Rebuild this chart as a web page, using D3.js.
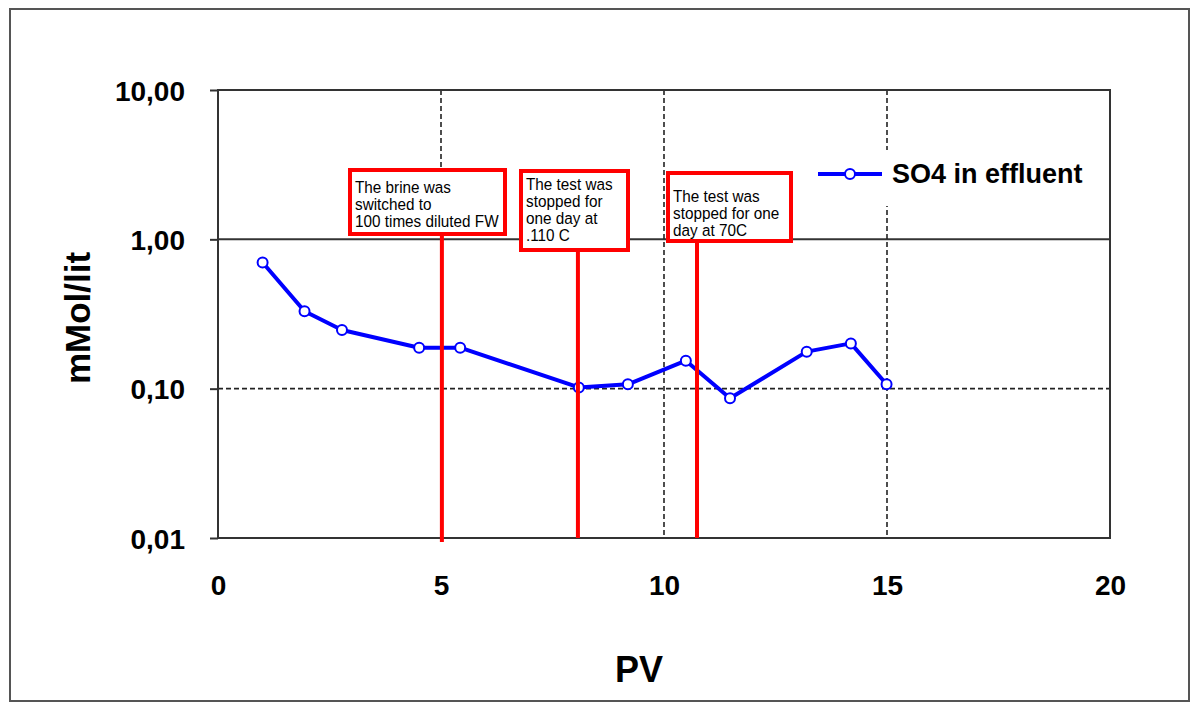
<!DOCTYPE html>
<html>
<head>
<meta charset="utf-8">
<script src="https://cdn.jsdelivr.net/npm/d3@7"></script>
<style>
  body { margin: 0; background: #fff; }
  svg { display: block; font-family: "Liberation Sans", Arial, sans-serif; }
</style>
</head>
<body>
<svg width="1192" height="704"></svg>
<script>
// data
var pv  = [1.0, 1.94, 2.78, 4.51, 5.43, 8.09, 9.19, 10.49, 11.48, 13.2, 14.19, 14.99];
var so4 = [0.70, 0.33, 0.247, 0.188, 0.188, 0.102, 0.107, 0.154, 0.0863, 0.177, 0.201, 0.107];
var seriesName = "SO4 in effluent";
var xTicks = [0, 5, 10, 15, 20];
var yTicks = [0.01, 0.1, 1, 10];
var xGrid = [5, 10, 15];
var eventPV = [5.02, 8.07, 10.74];
var eventNotes = [
  ["The brine was", "switched to", "100 times diluted FW"],
  ["The test was", "stopped for", "one day at", ".110 C"],
  ["The test was", "stopped for one", "day at 70C"]
];

// note boxes (outer edges, px) and first text baseline offset
var boxes = [
  {x0: 348, y0: 168, x1: 507, y1: 236, first: 25},
  {x0: 519, y0: 169, x1: 630, y1: 252, first: 21},
  {x0: 666, y0: 171, x1: 793, y1: 243, first: 31}
];

var svg = d3.select("svg");
var plotL = 218, plotR = 1110, plotT = 90, plotB = 538;

var x = d3.scaleLinear().domain([0, 20]).range([plotL, plotR]);
var y = d3.scaleLog().domain([0.01, 10]).range([plotB, plotT]);

// outer frame
svg.append("rect")
    .attr("x", 10).attr("y", 9).attr("width", 1179).attr("height", 692)
    .attr("fill", "#fff").attr("stroke", "#555").attr("stroke-width", 2);

// grid
svg.append("line")
    .attr("x1", plotL).attr("x2", plotR).attr("y1", y(1)).attr("y2", y(1))
    .attr("stroke", "#333").attr("stroke-width", 2);
svg.append("line")
    .attr("x1", plotL).attr("x2", plotR).attr("y1", y(0.1)).attr("y2", y(0.1))
    .attr("stroke", "#222").attr("stroke-width", 1.6).attr("stroke-dasharray", "5,3");
svg.selectAll(".vgrid").data(xGrid).enter().append("line")
    .attr("x1", function(d) { return x(d); }).attr("x2", function(d) { return x(d); })
    .attr("y1", plotT).attr("y2", plotB)
    .attr("stroke", "#222").attr("stroke-width", 1.6).attr("stroke-dasharray", "5,3");

// plot border
svg.append("rect")
    .attr("x", plotL).attr("y", plotT).attr("width", plotR - plotL).attr("height", plotB - plotT)
    .attr("fill", "none").attr("stroke", "#333").attr("stroke-width", 2);

// axes
var fmt = function(d) { return d3.format(".2f")(d).replace(".", ","); };
var yAxis = svg.append("g")
    .attr("transform", "translate(" + plotL + ",0)")
    .call(d3.axisLeft(y).tickValues(yTicks).tickSize(8).tickPadding(25).tickFormat(fmt));
var xAxis = svg.append("g")
    .attr("transform", "translate(0," + plotB + ")")
    .call(d3.axisBottom(x).tickValues(xTicks).tickSize(0).tickPadding(37));
[yAxis, xAxis].forEach(function(g) {
  g.select(".domain").remove();
  g.selectAll("line").attr("stroke", "#333").attr("stroke-width", 2);
  g.selectAll("text")
      .attr("font-family", "Liberation Sans, Arial, sans-serif")
      .attr("font-size", 28).attr("font-weight", "bold").attr("fill", "#000");
});
yAxis.selectAll("text").attr("dy", "0.36em");

// axis titles
svg.append("text")
    .attr("transform", "translate(639,682)")
    .attr("text-anchor", "middle")
    .attr("font-size", 36).attr("font-weight", "bold")
    .text("PV");
svg.append("text")
    .attr("transform", "translate(90,318) rotate(-90)")
    .attr("text-anchor", "middle")
    .attr("font-size", 35).attr("font-weight", "bold")
    .text("mMol/lit");

// legend background hides the grid under it
svg.append("rect")
    .attr("x", 805).attr("y", 150).attr("width", 300).attr("height", 56)
    .attr("fill", "#fff");

// series
var pts = pv.map(function(d, i) { return [d, so4[i]]; });
var line = d3.line()
    .x(function(d) { return x(d[0]); })
    .y(function(d) { return y(d[1]); });
svg.append("path")
    .datum(pts)
    .attr("d", line)
    .attr("fill", "none").attr("stroke", "#0000ff").attr("stroke-width", 4)
    .attr("stroke-linejoin", "round");
svg.selectAll(".pt").data(pts).enter().append("circle")
    .attr("cx", function(d) { return x(d[0]); })
    .attr("cy", function(d) { return y(d[1]); })
    .attr("r", 5)
    .attr("fill", "#fff").attr("stroke", "#0000ff").attr("stroke-width", 2);

// event lines and note boxes
eventPV.forEach(function(p, i) {
  var b = boxes[i];
  svg.append("line")
      .attr("x1", x(p)).attr("x2", x(p))
      .attr("y1", b.y1).attr("y2", i === 0 ? plotB + 4 : plotB)
      .attr("stroke", "#ff0000").attr("stroke-width", 4);
  svg.append("rect")
      .attr("x", b.x0 + 2).attr("y", b.y0 + 2)
      .attr("width", b.x1 - b.x0 - 4).attr("height", b.y1 - b.y0 - 4)
      .attr("fill", "#fff").attr("stroke", "#ff0000").attr("stroke-width", 4);
  eventNotes[i].forEach(function(t, j) {
    svg.append("text")
        .attr("transform", "translate(" + (b.x0 + 7) + "," + (b.y0 + b.first + j * 17) + ") scale(0.9,1)")
        .attr("font-size", 17).attr("fill", "#000")
        .text(t);
  });
});

// legend
svg.append("line")
    .attr("x1", 818).attr("x2", 882).attr("y1", 174).attr("y2", 174)
    .attr("stroke", "#0000ff").attr("stroke-width", 4);
svg.append("circle")
    .attr("cx", 850).attr("cy", 174).attr("r", 5)
    .attr("fill", "#fff").attr("stroke", "#0000ff").attr("stroke-width", 2);
svg.append("text")
    .attr("x", 892).attr("y", 183)
    .attr("font-size", 27).attr("font-weight", "bold")
    .text(seriesName);
</script>
</body>
</html>
